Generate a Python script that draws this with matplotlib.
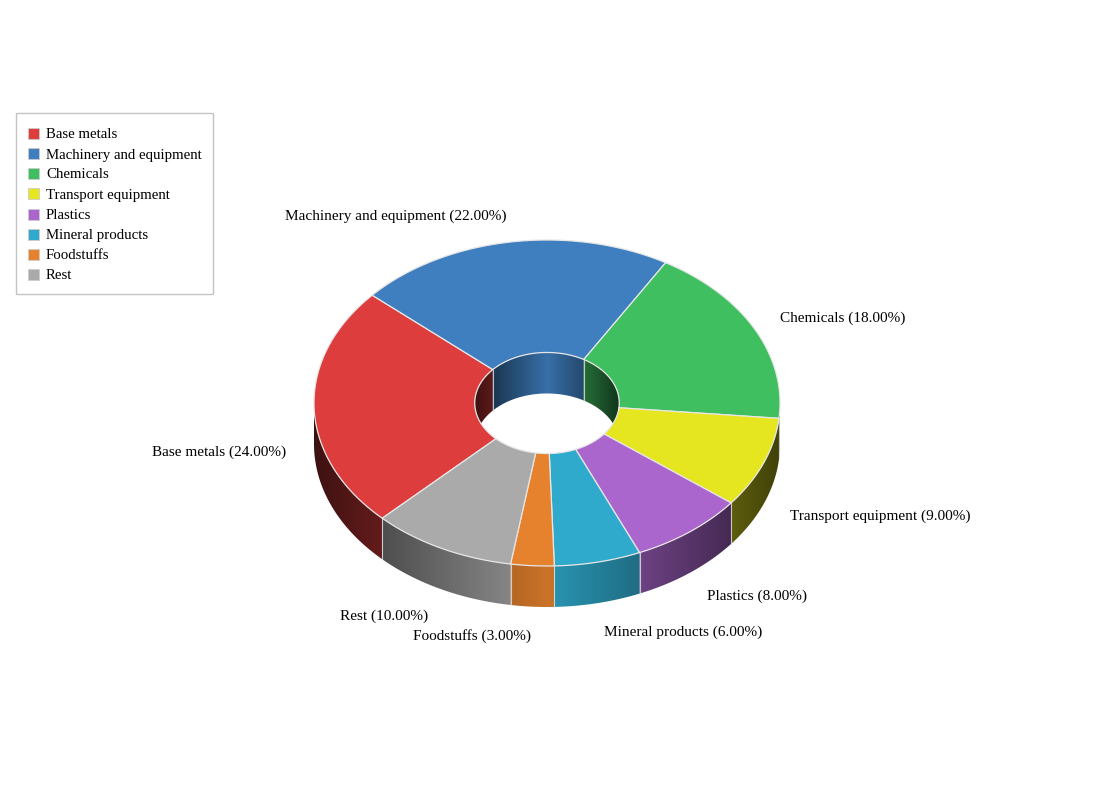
import numpy as np
import matplotlib.pyplot as plt
from matplotlib.patches import Polygon, Rectangle
from matplotlib.colors import to_rgb

categories = ['Base metals', 'Machinery and equipment', 'Chemicals', 'Transport equipment',
              'Plastics', 'Mineral products', 'Foodstuffs', 'Rest']
shares = [24, 22, 18, 9, 8, 6, 3, 10]
colors = ['#dd3d3d', '#3f7fbf', '#40bf60', '#e6e620', '#aa66cc', '#30aacc', '#e6822e', '#aaaaaa']

W, H = 1095, 805
cx, cy = 547, 403      # centre of top face
rx, ry = 233, 163      # outer radii
hole = 0.31            # inner radius ratio
depth = 41
start = 225            # degrees, slices run clockwise
edge = '#e6e6e6'
font = 'Liberation Serif'

plt.rcParams['font.family'] = [font, 'DejaVu Serif']

fig = plt.figure(figsize=(W / 100, H / 100), dpi=100)
ax = fig.add_axes([0, 0, 1, 1])
ax.set_xlim(0, W)
ax.set_ylim(H, 0)
ax.axis('off')


def pt(a, k=1.0, dz=0.0):
    r = np.radians(a)
    return cx + rx * k * np.cos(r), cy - ry * k * np.sin(r) + dz


def wall(a_hi, a_lo, k, c):
    # side wall between two angles, filled with a horizontal light gradient
    angs = np.linspace(a_hi, a_lo, 80)
    top = [pt(t, k) for t in angs]
    bot = [pt(t, k, depth) for t in angs[::-1]]
    poly = Polygon(top + bot, closed=True, facecolor='none', edgecolor='none', zorder=1)
    ax.add_patch(poly)
    xs = [p[0] for p in top]
    ys = [p[1] for p in top + bot]
    x0, x1 = min(xs) - 1, max(xs) + 1
    y0, y1 = min(ys) - 1, max(ys) + 1
    n = max(int(x1 - x0) * 2, 2)
    xx = np.linspace(x0, x1, n)
    u = np.clip((xx - cx) / (rx * k), -1, 1)
    f = 0.88 - 0.6 * np.abs(u)
    img = np.array(to_rgb(c))[None, None, :] * f[None, :, None]
    im = ax.imshow(img, extent=(x0, x1, y1, y0), aspect='auto',
                   interpolation='bilinear', zorder=1)
    im.set_clip_path(poly)


# slice angle ranges
bounds = []
a = start
for s in shares:
    bounds.append((a, a - 360 * s / 100))
    a -= 360 * s / 100

# walls: outer front half, inner back half
for (a0, a1), c in zip(bounds, colors):
    # outer wall where angle is in the front (sin < 0)
    for base in (-360, 0, 360):
        lo, hi = max(a1, base - 180), min(a0, base)
        if hi > lo:
            wall(hi, lo, 1.0, c)
        lo, hi = max(a1, base), min(a0, base + 180)
        if hi > lo:
            wall(hi, lo, hole, c)

ax.set_xlim(0, W)
ax.set_ylim(H, 0)

# boundary lines on walls
for a0, a1 in bounds:
    k = 1.0 if np.sin(np.radians(a0)) < 0 else hole
    x0, y0 = pt(a0, k)
    ax.plot([x0, x0], [y0, y0 + depth], color=edge, lw=0.8, alpha=0.8, zorder=2)

# top faces
for (a0, a1), c in zip(bounds, colors):
    angs = np.linspace(a0, a1, 120)
    outer = [pt(t) for t in angs]
    inner = [pt(t, hole) for t in angs[::-1]]
    ax.add_patch(Polygon(outer + inner, closed=True, facecolor=c, edgecolor=edge,
                         lw=0.9, joinstyle='round', zorder=3))

# data labels
for (a0, a1), name, s in zip(bounds, categories, shares):
    m = (a0 + a1) / 2
    r = np.radians(m)
    x = cx + rx * 1.12 * np.cos(r)
    y = cy - ry * 1.17 * np.sin(r) + (depth if np.sin(r) < 0 else 0) + 2
    ha = 'left' if np.cos(r) > 0 else 'right'
    ax.text(x, y, f'{name} ({s:.2f}%)', ha=ha, va='center', fontsize=11, color='black', zorder=5)

# legend
ax.add_patch(Rectangle((16, 113), 197, 181, facecolor='white', edgecolor='#c4c4c4', lw=1, zorder=4))
for i, (name, c) in enumerate(zip(categories, colors)):
    y = 134 + 20 * i
    ax.add_patch(Rectangle((28, y - 5.5), 11, 11, facecolor=c, edgecolor='#cccccc', lw=0.6, zorder=5))
    ax.text(46, y + 1, name, ha='left', va='center', fontsize=10.7, color='black', zorder=5)

fig.savefig('out.png', dpi=100)
